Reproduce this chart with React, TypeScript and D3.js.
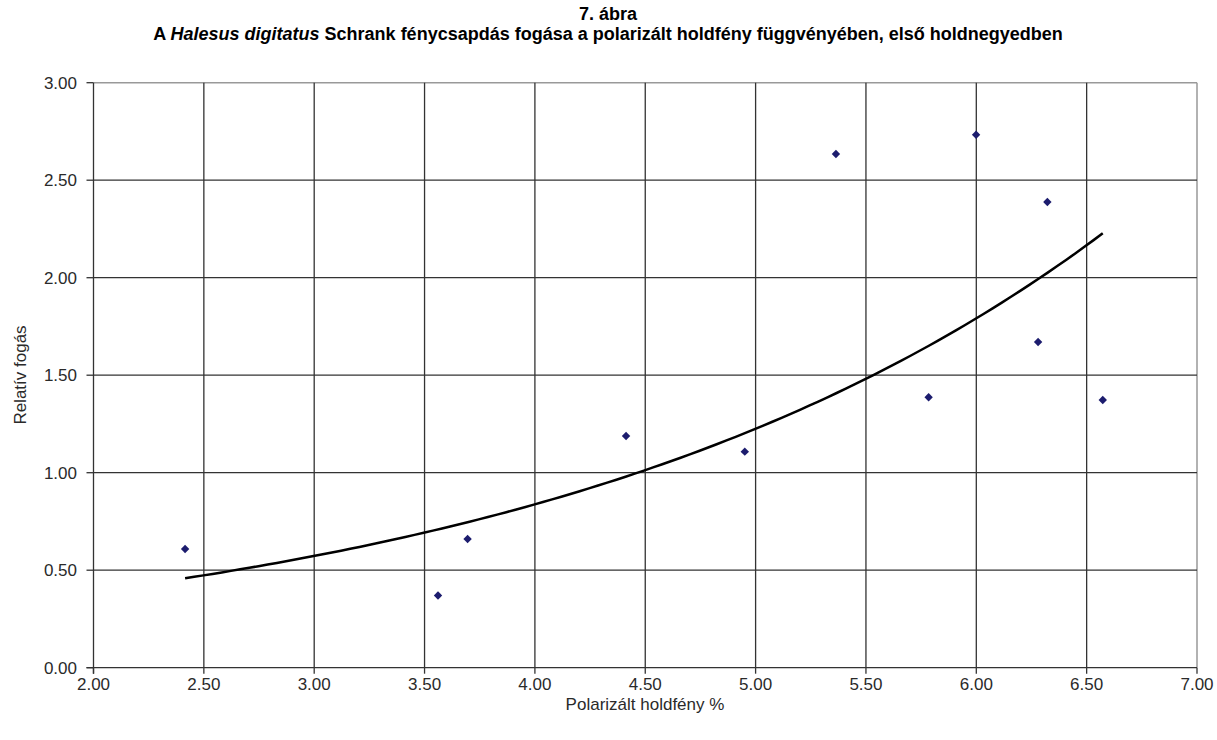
import React from "react";
import * as d3 from "d3";

const xValues = [2.415, 3.561, 3.695, 4.413, 4.951, 5.364, 5.784, 5.999, 6.322, 6.28, 6.573];
const yValues = [0.609, 0.37, 0.66, 1.188, 1.108, 2.634, 1.387, 2.733, 2.388, 1.67, 1.373];
const xTicks = [2, 2.5, 3, 3.5, 4, 4.5, 5, 5.5, 6, 6.5, 7];
const yTicks = [0, 0.5, 1, 1.5, 2, 2.5, 3];

const W = 1217;
const H = 740;
const M = { left: 93.5, right: 1197, top: 82.7, bottom: 667.7 };
const FONT = "'Liberation Sans', Arial, sans-serif";

export default function App() {
  const x = d3.scaleLinear().domain([2, 7]).range([M.left, M.right]);
  const y = d3.scaleLinear().domain([0, 3]).range([M.bottom, M.top]);

  // Exponential trendline (least squares on ln y), as a spreadsheet computes it
  const n = xValues.length;
  const lny = yValues.map((v) => Math.log(v));
  const mx = d3.mean(xValues) as number;
  const my = d3.mean(lny) as number;
  let sxy = 0, sxx = 0;
  for (let i = 0; i < n; i++) {
    sxy += (xValues[i] - mx) * (lny[i] - my);
    sxx += (xValues[i] - mx) ** 2;
  }
  const b = sxy / sxx;
  const a = Math.exp(my - b * mx);
  const [xmin, xmax] = d3.extent(xValues) as [number, number];
  const trendX = d3.range(0, 101).map((i) => xmin + ((xmax - xmin) * i) / 100);
  const line = d3
    .line<number>()
    .x((d) => x(d))
    .y((d) => y(a * Math.exp(b * d)));

  const diamond = (cx: number, cy: number, r: number) =>
    `M${cx},${cy - r}L${cx + r},${cy}L${cx},${cy + r}L${cx - r},${cy}Z`;

  return (
    <svg
      width={W}
      height={H}
      style={{ position: "absolute", left: 0, top: 0, background: "#fff" }}
      fontFamily={FONT}
    >
      <rect x={0} y={0} width={W} height={H} fill="#fff" />
      {/* border of plot area (top/right) */}
      <line x1={M.left} x2={M.right} y1={M.top} y2={M.top} stroke="#999" strokeWidth={1.5} />
      <line x1={M.right} x2={M.right} y1={M.top} y2={M.bottom} stroke="#999" strokeWidth={1.5} />
      {/* grid */}
      {xTicks.slice(1, -1).map((t) => (
        <line key={"gx" + t} x1={x(t)} x2={x(t)} y1={M.top} y2={M.bottom} stroke="#333" strokeWidth={1.3} />
      ))}
      {yTicks.slice(1, -1).map((t) => (
        <line key={"gy" + t} x1={M.left} x2={M.right} y1={y(t)} y2={y(t)} stroke="#333" strokeWidth={1.3} />
      ))}
      {/* axes */}
      <line x1={M.left} x2={M.left} y1={M.top} y2={M.bottom + 6} stroke="#333" strokeWidth={1.3} />
      <line x1={M.left - 7} x2={M.right} y1={M.bottom} y2={M.bottom} stroke="#333" strokeWidth={1.3} />
      {yTicks.map((t) => (
        <g key={"yt" + t}>
          <line x1={M.left - 7} x2={M.left} y1={y(t)} y2={y(t)} stroke="#333" strokeWidth={1.3} />
          <text x={77} y={y(t)} dy="0.35em" textAnchor="end" fontSize={17} fill="#2a2a2a">
            {d3.format(".2f")(t)}
          </text>
        </g>
      ))}
      {xTicks.map((t) => (
        <g key={"xt" + t}>
          <line x1={x(t)} x2={x(t)} y1={M.bottom} y2={M.bottom + 6} stroke="#333" strokeWidth={1.3} />
          <text x={x(t)} y={690} textAnchor="middle" fontSize={17} fill="#2a2a2a">
            {d3.format(".2f")(t)}
          </text>
        </g>
      ))}
      {/* trendline */}
      <path d={line(trendX) || ""} fill="none" stroke="#000" strokeWidth={2.5} />
      {/* points */}
      {xValues.map((v, i) => (
        <path key={"p" + i} d={diamond(x(v), y(yValues[i]), 4.2)} fill="#1c1c6e" />
      ))}
      {/* titles */}
      <text x={608} y={20} textAnchor="middle" fontSize={18} fontWeight="bold" fill="#000">
        7. ábra
      </text>
      <text x={608} y={40} textAnchor="middle" fontSize={18} fontWeight="bold" fill="#000">
        A <tspan fontStyle="italic">Halesus digitatus</tspan> Schrank fénycsapdás fogása a polarizált holdfény függvényében, első holdnegyedben
      </text>
      <text x={645} y={710} textAnchor="middle" fontSize={17} fill="#2a2a2a">
        Polarizált holdfény %
      </text>
      <text transform={`translate(26,375) rotate(-90)`} textAnchor="middle" fontSize={17} fill="#2a2a2a">
        Relatív fogás
      </text>
    </svg>
  );
}
